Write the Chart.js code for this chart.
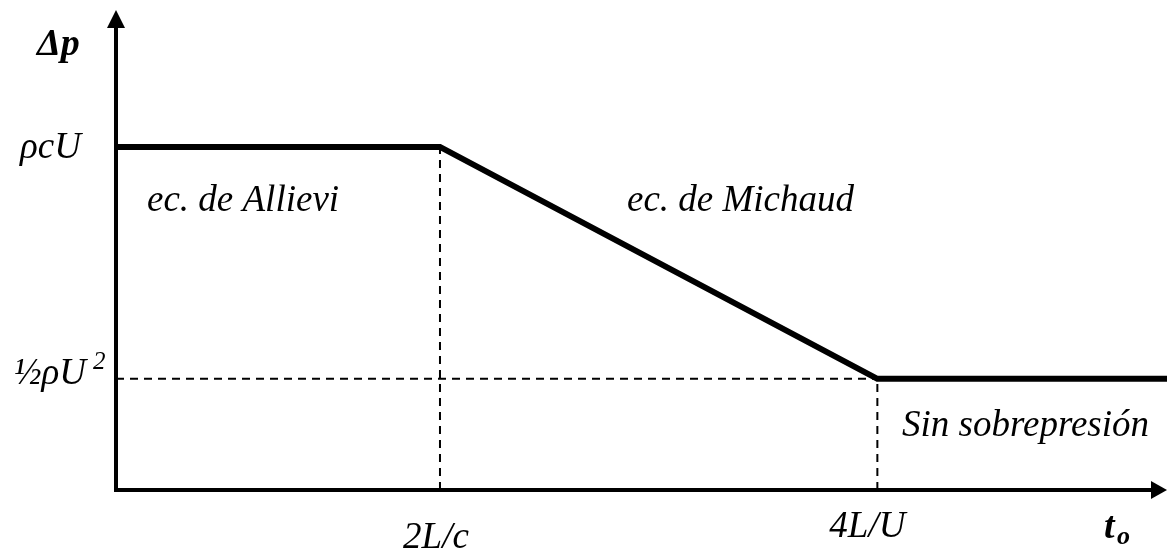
<!DOCTYPE html>
<html>
<head>
<meta charset="utf-8">
<script src="https://cdn.jsdelivr.net/npm/chart.js@4"></script>
<style>
  body { margin: 0; background: #fff; }
</style>
</head>
<body>
<canvas id="pressure" width="1167" height="551"></canvas>
<script>
// closure time axis, in units of 2L/c
const xTickValues = [1, 2.35];
const xTickLabels = ["2L/c", "4L/U"];
// overpressure axis, in units of ρcU
const yTickValues = [1, 0.324];
const yTickLabels = ["ρcU", "½ρU"];
// overpressure vs closure time
const curveX = [0, 1, 2.35, 3.244];
const curveY = [1, 1, 0.324, 0.324];
const regionLabels = ["ec. de Allievi", "ec. de Michaud", "Sin sobrepresión"];

const ink = "#000";
const serif = "'Liberation Serif', 'DejaVu Serif', serif";

const curve = curveX.map((x, i) => ({ x: x, y: curveY[i] }));
// dashed guides down / across from the breakpoints
const guideA = [{ x: xTickValues[0], y: 0 }, { x: xTickValues[0], y: yTickValues[0] }];
const guideB = [{ x: xTickValues[1], y: 0 }, { x: xTickValues[1], y: yTickValues[1] }];
const guideC = [{ x: 0, y: yTickValues[1] }, { x: xTickValues[1], y: yTickValues[1] }];

const dashed = {
    borderColor: ink,
    borderWidth: 2,
    borderDash: [8, 6],
    pointRadius: 0,
    showLine: true,
    clip: false,
};

const axesAndText = {
    id: "axesAndText",
    afterDraw(chart) {
        const c = chart.ctx;
        const a = chart.chartArea;
        const xs = chart.scales.x;
        const ys = chart.scales.y;
        c.save();
        c.strokeStyle = ink;
        c.fillStyle = ink;
        c.lineWidth = 4;
        c.lineCap = "butt";
        // axes
        c.beginPath();
        c.moveTo(a.left, a.bottom);
        c.lineTo(a.left, a.top + 12);
        c.moveTo(a.left - 2, a.bottom);
        c.lineTo(a.right - 12, a.bottom);
        c.stroke();
        // arrow heads
        c.beginPath();
        c.moveTo(a.left, a.top);
        c.lineTo(a.left - 9, a.top + 18);
        c.lineTo(a.left + 9, a.top + 18);
        c.closePath();
        c.fill();
        c.beginPath();
        c.moveTo(a.right, a.bottom);
        c.lineTo(a.right - 16, a.bottom - 9);
        c.lineTo(a.right - 16, a.bottom + 9);
        c.closePath();
        c.fill();

        c.textBaseline = "alphabetic";
        // axis titles
        c.font = "bold italic 38px " + serif;
        c.textAlign = "left";
        c.fillText("Δp", 37, 55);
        c.fillText("t", 1104, 538);
        c.font = "bold italic 26px " + serif;
        c.fillText("o", 1117, 544);

        // y tick labels
        c.font = "italic 37px " + serif;
        c.textAlign = "right";
        c.fillText(yTickLabels[0], 81, ys.getPixelForValue(yTickValues[0]) + 11);
        const yb = ys.getPixelForValue(yTickValues[1]) + 5;
        c.fillText(yTickLabels[1], 86, yb);
        c.font = "italic 25px " + serif;
        c.textAlign = "left";
        c.fillText("2", 93, yb - 15);

        // x tick labels
        c.font = "italic 37px " + serif;
        c.textAlign = "center";
        c.fillText(xTickLabels[0], xs.getPixelForValue(xTickValues[0]) - 4, 548);
        c.fillText(xTickLabels[1], xs.getPixelForValue(xTickValues[1]) - 10, 537);

        // region notes
        c.textAlign = "left";
        c.fillText(regionLabels[0], 147, 211);
        c.fillText(regionLabels[1], 627, 211);
        c.fillText(regionLabels[2], 902, 436);
        c.restore();
    },
};

new Chart(document.getElementById("pressure").getContext("2d"), {
    type: "scatter",
    data: {
        datasets: [
            { data: guideA, ...dashed },
            { data: guideB, ...dashed },
            { data: guideC, ...dashed },
            {
                data: curve,
                showLine: true,
                borderColor: ink,
                borderWidth: 6,
                borderJoinStyle: "miter",
                pointRadius: 0,
                clip: false,
            },
        ],
    },
    options: {
        responsive: false,
        animation: false,
        layout: { padding: { left: 116, top: 10, right: 0, bottom: 61 } },
        plugins: { legend: { display: false }, tooltip: { enabled: false } },
        scales: {
            x: { type: "linear", display: false, min: 0, max: 3.244 },
            y: { type: "linear", display: false, min: 0, max: 1.399 },
        },
    },
    plugins: [axesAndText],
});
</script>
</body>
</html>
